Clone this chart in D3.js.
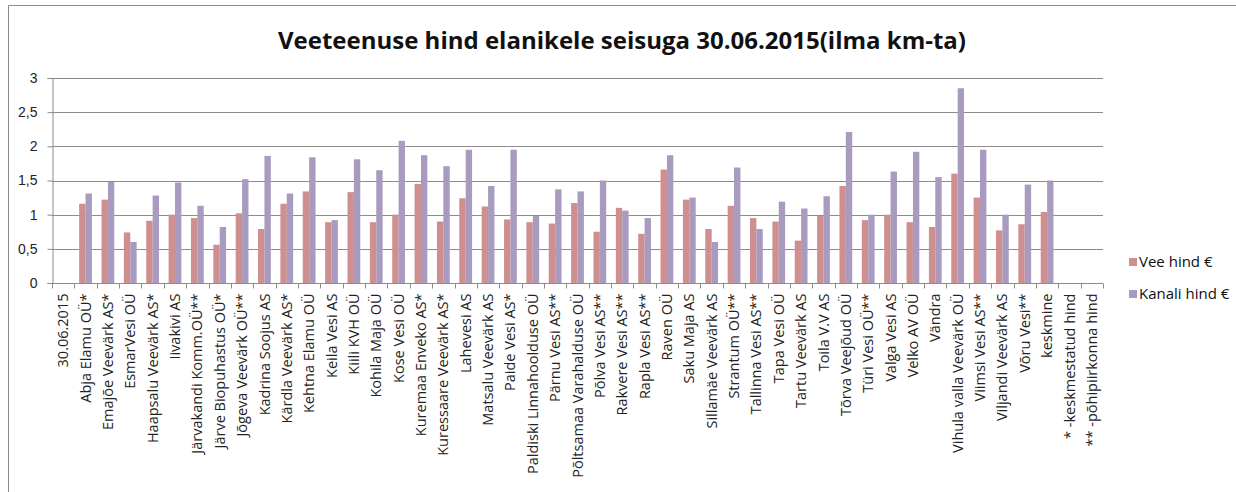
<!DOCTYPE html>
<html>
<head>
<meta charset="utf-8">
<script src="https://cdn.jsdelivr.net/npm/d3@7"></script>
<style>
  body { margin: 0; background: #fff; }
  svg { display: block; font-family: "Open Sans", sans-serif; }
  .grid line { stroke: #8c8c8c; stroke-width: 1; }
  .axis path, .axis line { stroke: #8c8c8c; }
  .axis text { fill: #222; }
</style>
</head>
<body>
<svg id="chart" width="1236" height="492"></svg>
<script>
// ettevõtted (x-telje sildid)
const companies = [
  "30.06.2015", "Abja Elamu OÜ*", "Emajõe Veevärk AS*", "EsmarVesi OÜ", "Haapsalu Veevärk AS*",
  "Iivakivi AS", "Järvakandi Komm.OÜ**", "Järve Biopuhastus OÜ*", "Jõgeva Veevärk OÜ**",
  "Kadrina Soojus AS", "Kärdla Veevärk AS*", "Kehtna Elamu OÜ", "Keila Vesi AS", "Kiili KVH OÜ",
  "Kohila Maja OÜ", "Kose Vesi OÜ", "Kuremaa Enveko AS*", "Kuressaare Veevärk AS*", "Lahevesi AS",
  "Matsalu Veevärk AS", "Paide Vesi AS*", "Paldiski Linnahoolduse  OÜ", "Pärnu Vesi AS**",
  "Põltsamaa Varahalduse OÜ", "Põlva Vesi  AS**", "Rakvere Vesi AS**", "Rapla Vesi AS**",
  "Raven OÜ", "Saku Maja AS", "Sillamäe Veevärk AS", "Strantum OÜ**", "Tallinna Vesi AS**",
  "Tapa Vesi OÜ", "Tartu Veevärk AS", "Toila V.V AS", "Tõrva Veejõud OÜ", "Türi Vesi OÜ**",
  "Valga Vesi AS", "Velko AV OÜ", "Vändra", "Vihula valla Veevärk OÜ", "Viimsi Vesi AS**",
  "Viljandi Veevärk AS", "Võru Vesi**", "keskmine", "* -keskmestatud hind", "** -põhipiirkonna hind"
];

// vee hind €
const veeHind = [
  null, 1.16, 1.22, 0.74, 0.91, 1.00, 0.95, 0.56, 1.02, 0.79, 1.16, 1.34, 0.89, 1.33, 0.89, 1.00,
  1.45, 0.90, 1.24, 1.12, 0.93, 0.89, 0.87, 1.17, 0.75, 1.10, 0.72, 1.66, 1.22, 0.79, 1.13, 0.95,
  0.90, 0.62, 0.98, 1.42, 0.92, 1.00, 0.89, 0.82, 1.60, 1.25, 0.77, 0.86, 1.04, null, null
];

// kanali hind €
const kanaliHind = [
  null, 1.31, 1.48, 0.60, 1.28, 1.47, 1.13, 0.82, 1.52, 1.86, 1.31, 1.84, 0.92, 1.81, 1.65, 2.08,
  1.87, 1.71, 1.95, 1.42, 1.95, 0.98, 1.37, 1.34, 1.50, 1.06, 0.95, 1.87, 1.25, 0.60, 1.69, 0.79,
  1.19, 1.09, 1.27, 2.21, 1.00, 1.63, 1.92, 1.55, 2.85, 1.95, 1.00, 1.44, 1.50, null, null
];

const seriesNames = ["Vee hind €", "Kanali hind €"];
const colors = ["#cf8f8f", "#a89bbf"];
const yTicks = [0, 0.5, 1, 1.5, 2, 2.5, 3];

const svg = d3.select("#chart");

// raam
svg.append("path")
  .attr("d", "M8.5,492 V5.5 H1236")
  .attr("fill", "none")
  .attr("stroke", "#8c8c8c");

const plot = { left: 52, right: 1103, top: 78, bottom: 283 };

const x = d3.scaleBand()
  .domain(companies)
  .range([plot.left, plot.right])
  .padding(0);

const x1 = d3.scaleBand()
  .domain(seriesNames)
  .range([0, x.bandwidth()])
  .paddingInner(0)
  .paddingOuter(0.75);

const y = d3.scaleLinear()
  .domain([0, 3])
  .range([plot.bottom, plot.top]);

const fmt = v => d3.format("")(v).replace(".", ",");

// ruudustik
svg.append("g")
  .attr("class", "grid")
  .selectAll("line")
  .data(yTicks.filter(d => d > 0))
  .join("line")
  .attr("x1", plot.left)
  .attr("x2", plot.right)
  .attr("y1", d => Math.round(y(d)) + 0.5)
  .attr("y2", d => Math.round(y(d)) + 0.5);

// y-telg
const yAxis = svg.append("g")
  .attr("class", "axis")
  .attr("transform", `translate(${plot.left + 0.5},0)`)
  .call(d3.axisLeft(y).tickValues(yTicks).tickFormat(fmt).tickSize(5).tickPadding(10));
yAxis.selectAll("text").style("font-size", "14px").attr("fill", "#333");

// tulbad
const rows = companies.map((c, i) => ({ name: c, values: [veeHind[i], kanaliHind[i]] }));

svg.append("g")
  .selectAll("g")
  .data(rows)
  .join("g")
  .attr("transform", d => `translate(${x(d.name)},0)`)
  .selectAll("rect")
  .data(d => d.values.map((v, k) => ({ key: seriesNames[k], value: v })).filter(e => e.value != null))
  .join("rect")
  .attr("x", d => x1(d.key))
  .attr("width", x1.bandwidth())
  .attr("y", d => y(d.value))
  .attr("height", d => y(0) - y(d.value))
  .attr("fill", d => colors[seriesNames.indexOf(d.key)]);

// x-telg
const xAxisG = svg.append("g")
  .attr("class", "axis")
  .attr("transform", `translate(0,${Math.round(plot.bottom) + 0.5})`);

xAxisG.append("line")
  .attr("x1", plot.left)
  .attr("x2", plot.right);

xAxisG.selectAll(".tick-mark")
  .data(d3.range(companies.length + 1))
  .join("line")
  .attr("class", "tick-mark")
  .attr("x1", i => Math.round(plot.left + i * x.step()) + 0.5)
  .attr("x2", i => Math.round(plot.left + i * x.step()) + 0.5)
  .attr("y1", 0)
  .attr("y2", 5);

xAxisG.selectAll("text")
  .data(companies)
  .join("text")
  .attr("transform", d => `translate(${x(d) + x.bandwidth() / 2},10) rotate(-90)`)
  .attr("dy", "0.35em")
  .attr("text-anchor", "end")
  .style("font-size", "14.5px")
  .attr("fill", "#222")
  .text(d => d);

// pealkiri
svg.append("text")
  .attr("x", 622)
  .attr("y", 49)
  .attr("text-anchor", "middle")
  .style("font-size", "24px")
  .style("font-weight", "bold")
  .attr("fill", "#111")
  .text("Veeteenuse hind elanikele seisuga 30.06.2015(ilma km-ta)");

// legend
const legend = svg.append("g")
  .selectAll("g")
  .data(seriesNames)
  .join("g")
  .attr("transform", (d, i) => `translate(1129,${258 + i * 32})`);

legend.append("rect")
  .attr("width", 8)
  .attr("height", 8)
  .attr("fill", (d, i) => colors[i]);

legend.append("text")
  .attr("x", 10)
  .attr("y", 4)
  .attr("dy", "0.35em")
  .style("font-size", "15px")
  .attr("fill", "#111")
  .text(d => d);
</script>
</body>
</html>
